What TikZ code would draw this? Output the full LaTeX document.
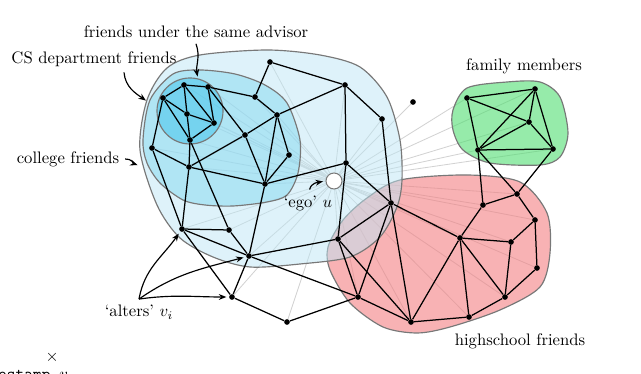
\documentclass[tikz,border=0pt]{standalone}
\usepackage{amsmath,amssymb}
\usepackage{tikz}
\usetikzlibrary{arrows.meta, positioning}

\definecolor{collegeblue}{RGB}{190,230,245}
\definecolor{csblue}{RGB}{130,215,240}
\definecolor{advblue}{RGB}{60,195,235}
\definecolor{schoolred}{RGB}{243,127,130}
\definecolor{familygreen}{RGB}{80,222,113}
\definecolor{blobline}{RGB}{120,120,120}

\pgfdeclarelayer{ties}
\pgfdeclarelayer{groups}
\pgfsetlayers{ties,groups,main}

\begin{document}
\begin{tikzpicture}[
        x=0.6pt, y=-0.6pt,
        >={Stealth[length=4.5pt,width=3.5pt]},
        every node/.style={font=\normalsize},
        alter/.style={circle, fill=black, inner sep=0pt, minimum size=3.4pt},
        egonode/.style={circle, draw=blobline, fill=white, line width=0.6pt, inner sep=0pt, minimum size=9.6pt},
        tie/.style={line width=0.75pt},
        egotie/.style={gray!35, line width=0.5pt},
        blob/.style={draw=blobline, line width=0.7pt},
        callout/.style={->, line width=0.7pt, shorten >=1.5pt}
    ]
        \useasboundingbox (0,0) rectangle (641,374);

        % college / department / advisor
        \node[alter] (c1) at (270,62) {};
        \node[alter] (c2) at (184,85) {};
        \node[alter] (c3) at (208,87) {};
        \node[alter] (c4) at (163,98) {};
        \node[alter] (c5) at (255,97) {};
        \node[alter] (c6) at (187,114) {};
        \node[alter] (c7) at (277,115) {};
        \node[alter] (c8) at (214,123) {};
        \node[alter] (c9) at (245,135) {};
        \node[alter] (c10) at (190,140) {};
        \node[alter] (c11) at (152,148) {};
        \node[alter] (c12) at (289,155) {};
        \node[alter] (c13) at (189,167) {};
        \node[alter] (c14) at (265,184) {};
        \node[alter] (c15) at (345,85) {};
        \node[alter] (c16) at (382,119) {};
        \node[alter] (c17) at (346,163) {};
        \node[alter] (lone) at (413,102) {};

        % outside any group
        \node[alter] (o1) at (182,229) {};
        \node[alter] (o2) at (229,230) {};
        \node[alter] (o3) at (249,256) {};
        \node[alter] (o4) at (232,297) {};
        \node[alter] (o5) at (287,322) {};

        % highschool
        \node[alter] (h1) at (391,203) {};
        \node[alter] (h2) at (338,239) {};
        \node[alter] (h3) at (358,297) {};
        \node[alter] (h4) at (411,322) {};
        \node[alter] (h5) at (460,238) {};
        \node[alter] (h6) at (483,205) {};
        \node[alter] (h7) at (517,194) {};
        \node[alter] (h8) at (535,220) {};
        \node[alter] (h9) at (511,242) {};
        \node[alter] (h10) at (537,268) {};
        \node[alter] (h11) at (505,297) {};
        \node[alter] (h12) at (469,317) {};

        % family
        \node[alter] (f1) at (467,98) {};
        \node[alter] (f2) at (535,89) {};
        \node[alter] (f3) at (529,122) {};
        \node[alter] (f4) at (478,150) {};
        \node[alter] (f5) at (553,149) {};

        \node[egonode] (ego) at (334,181) {};

        \begin{pgfonlayer}{ties}
            \foreach \v in {c1,c2,c3,c4,c5,c6,c7,c8,c9,c10,c11,c12,c13,c14,c15,c16,c17,lone,
                            o1,o2,o3,o4,o5,h1,h2,h3,h4,h5,h6,h7,h8,h9,h10,h11,h12,f1,f2,f3,f4,f5}
                \draw[egotie] (ego.center) -- (\v);
        \end{pgfonlayer}

        \begin{pgfonlayer}{groups}
            \draw[blob, fill=schoolred, fill opacity=0.6] plot[smooth cycle] coordinates {
                (400,180) (467,175) (520,182) (547,213) (550,253) (540,287) (500,310)
                (450,327) (417,333) (383,327) (350,303) (330,270) (328,247) (343,220) (367,198)};
            \draw[blob, fill=familygreen, fill opacity=0.6] plot[smooth cycle] coordinates {
                (453,110) (467,88) (507,82) (540,82) (560,97) (568,133) (560,157)
                (540,165) (490,163) (463,150) (453,130)};
            \draw[blob, fill=collegeblue, fill opacity=0.5] plot[smooth cycle] coordinates {
                (140,150) (147,100) (167,68) (200,55) (267,50) (320,55) (360,67) (387,97)
                (400,140) (402,180) (397,207) (380,237) (350,257) (300,264) (250,267)
                (213,257) (180,238) (157,205)};
            \draw[blob, fill=csblue, fill opacity=0.5] plot[smooth cycle] coordinates {
                (143,140) (150,100) (173,74) (200,70) (235,74) (265,85) (287,103) (300,140)
                (298,173) (287,195) (267,202) (233,206) (205,205) (183,200) (160,183) (147,163)};
            \draw[blob, fill=advblue, fill opacity=0.5] (190,111) circle[radius=33];
        \end{pgfonlayer}

        \foreach \a/\b in {c4/c2, c2/c3, c2/c6, c2/c8, c3/c8, c3/c9, c3/c5, c4/c6, c4/c10,
                           c4/c11, c6/c8, c6/c10, c8/c10, c10/c13, c10/o2, c11/c13, c11/o1,
                           c13/c9, c13/c14, c13/o1, c1/c5, c1/c15, c5/c7, c7/c9, c7/c15,
                           c7/c12, c7/c14, c9/c14, c12/c14, c14/c17, c14/o3, c15/c17, c15/c16,
                           c16/h1, c17/h1, c17/h2, o1/o2, o1/o3, o1/o4, o2/o3, o3/o4, o3/h2,
                           o3/h3, o4/o5, o5/h3, h2/h3, h2/h4, h2/h1, h3/h1, h1/h4, h1/h5,
                           h3/h4, h4/h5, h4/h12, h5/h12, h5/h11, h5/h9, h5/h6, h6/h7, h7/h8,
                           h8/h9, h8/h10, h9/h11, h10/h11, h11/h12, h6/f4, f4/h7, f5/h7,
                           f1/f2, f1/f3, f1/f4, f2/f3, f2/f4, f2/f5, f3/f4, f3/f5, f4/f5}
            \draw[tie] (\a) -- (\b);

        % labels
        \node (advlabel) at (196,32) {friends under the same advisor};
        \node (cslabel) at (94,59) {CS department friends};
        \node (collegelabel) at (68,159) {college friends};
        \node (familylabel) at (524,66) {family members};
        \node (schoollabel) at (520,341) {highschool friends};
        \node (egolabel) at (308,203) {`ego' $u$};
        \node (alterslabel) at (139,312) {`alters' $v_i$};
        \node (cross) at (52,357) {$\times$};
        \node[anchor=base west, font=\ttfamily] (stamp) at (-34,380) {timestamp $v_i$};

        \coordinate (advtip) at (198,79);
        \coordinate (cstip) at (148,102);
        \coordinate (collegetip) at (140,166);

        \draw[callout] (advlabel.south) to[out=-70, in=100] (advtip);
        \draw[callout] ([xshift=18pt]cslabel.south) to[out=-85, in=145] (cstip);
        \draw[callout] (collegelabel.east) to[out=5, in=160] (collegetip);
        \draw[callout] ([xshift=1pt]egolabel.north) to[out=80, in=190] (ego.west);
        \draw[callout] (alterslabel.north) to[out=80, in=-125] (o1);
        \draw[callout] (alterslabel.north) to[out=35, in=-165] (o3);
        \draw[callout] (alterslabel.north) to[out=8, in=180] (o4);
    \end{tikzpicture}
\end{document}
